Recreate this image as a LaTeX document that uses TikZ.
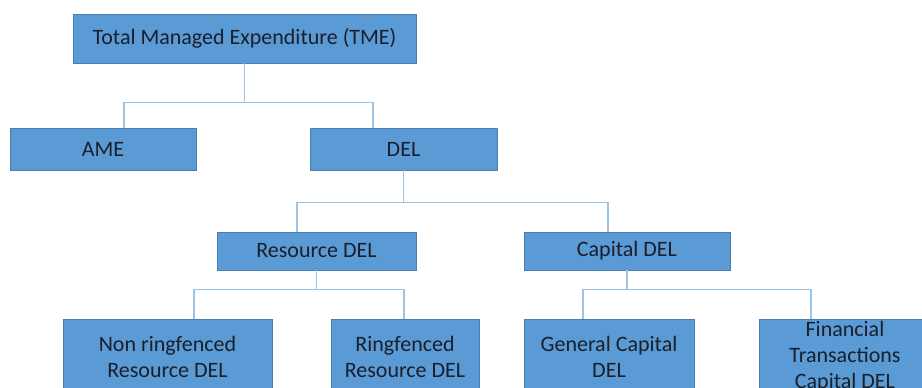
\documentclass[tikz,border=0pt]{standalone}
\usepackage{fontspec}
\setmainfont{Carlito}
\usepackage{tikz}
\definecolor{boxfill}{HTML}{5B9BD5}
\definecolor{boxline}{HTML}{4A7EB0}
\definecolor{linkcol}{HTML}{9DC3E6}
\definecolor{txtcol}{HTML}{1A1F2A}

\begin{document}
\begin{tikzpicture}[x=1pt, y=-1pt,
	caixa/.style={draw=boxline, fill=boxfill, line width=0.8pt, inner sep=0pt, align=center,
		text=txtcol, font=\fontsize{22}{26}\selectfont},
	liga/.style={draw=linkcol, line width=1.4pt}]
	\useasboundingbox (0,0) rectangle (922,388);
	\clip (0,0) rectangle (922,388);
		% Topo
		\node [caixa, minimum width=343pt, minimum height=49pt] (tme) at (244.5,38.5) {Total Managed Expenditure (TME)};
		% Nivel 1
		\node [caixa, minimum width=186pt, minimum height=42pt] (ame) at (103,149) {AME};
		\node [caixa, minimum width=187pt, minimum height=42pt] (del) at (403.5,149) {DEL};
		% Nivel 2
		\node [caixa, minimum width=199pt, minimum height=38pt] (resdel) at (316.5,251) {Resource DEL};
		\node [caixa, minimum width=206pt, minimum height=38pt] (capdel) at (627,251) {Capital DEL};
		% Folhas
		\node [caixa, minimum width=209pt, minimum height=76pt] (nonring) at (167.5,357) {Non ringfenced\\Resource DEL};
		\node [caixa, minimum width=148pt, minimum height=76pt] (ring) at (405,357) {Ringfenced\\Resource DEL};
		\node [caixa, minimum width=170pt, minimum height=76pt] (gencap) at (609,357) {General Capital\\DEL};
		\node [caixa, minimum width=172pt, minimum height=76pt] (fintr) at (845,357) {Financial\\Transactions\\Capital DEL};
		% Ligacoes
		\draw [liga] (tme.south) -- ++(0,39) -| ([xshift=21pt]ame.north);
		\draw [liga] (tme.south) -- ++(0,39) -| ([xshift=-30.5pt]del.north);
		\draw [liga] (del.south) -- ++(0,32) -| ([xshift=-19.5pt]resdel.north);
		\draw [liga] (del.south) -- ++(0,32) -| ([xshift=-19pt]capdel.north);
		\draw [liga] (resdel.south) -- ++(0,19) -| ([xshift=26.5pt]nonring.north);
		\draw [liga] (resdel.south) -- ++(0,19) -| ([xshift=-1pt]ring.north);
		\draw [liga] (capdel.south) -- ++(0,19) -| ([xshift=-26pt]gencap.north);
		\draw [liga] (capdel.south) -- ++(0,19) -| ([xshift=-34pt]fintr.north);
	\end{tikzpicture}
\end{document}
